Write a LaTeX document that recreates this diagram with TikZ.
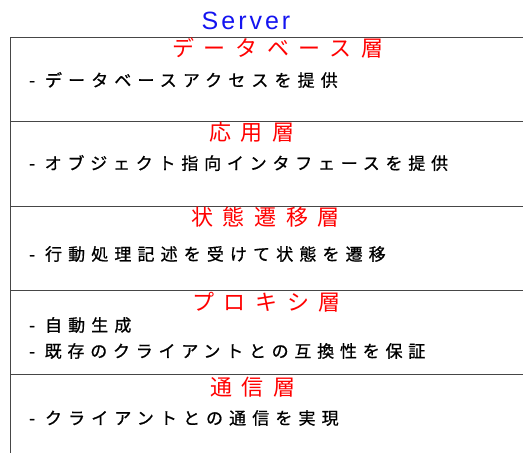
\documentclass[tikz,border=0pt]{standalone}
\usepackage{fontspec}
\newfontfamily\jph[LetterSpace=44]{Noto Sans CJK JP}
\newfontfamily\jpb[LetterSpace=36,FakeBold=0.8]{Noto Sans CJK JP}
\newfontfamily\jpbn[LetterSpace=34,FakeBold=0.8]{Noto Sans CJK JP}
\newfontfamily\srv[LetterSpace=12]{Liberation Sans}
\definecolor{srvblue}{RGB}{20,20,240}
\definecolor{linegray}{RGB}{70,70,70}
\tikzset{
  heading/.style={anchor=west,inner sep=0pt,text=red,font=\jph\fontsize{22}{26}\selectfont},
  body/.style={anchor=west,inner sep=0pt,text=black,font=\jpb\fontsize{17}{20}\selectfont},
  bodynarrow/.style={body,font=\jpbn\fontsize{17}{20}\selectfont},
  sep/.style={draw=linegray,line width=1pt}
}
\begin{document}
\begin{tikzpicture}[x=1pt,y=-1pt]
\useasboundingbox (0,0) rectangle (523,453);
\node[anchor=center,inner sep=0pt,text=srvblue,font=\srv\fontsize{25}{28}\selectfont] (title) at (246,21) {Server};
% frame lines
\draw[sep] (10,453) -- (10,37) -- (523,37);
\draw[sep] (10,121) -- (523,121);
\draw[sep] (10,206) -- (523,206);
\draw[sep] (10,290) -- (523,290);
\draw[sep] (10,374) -- (523,374);
% layer 1
\node[heading] (h1) at (172,48) {データベース層};
\node[body] (b1) at (29,80) {- データベースアクセスを提供};
% layer 2
\node[heading] (h2) at (209,132) {応用層};
\node[bodynarrow] (b2) at (29,163) {- オブジェクト指向インタフェースを提供};
% layer 3
\node[heading] (h3) at (191,217) {状態遷移層};
\node[body] (b3) at (29,254) {- 行動処理記述を受けて状態を遷移};
% layer 4
\node[heading] (h4) at (192,302) {プロキシ層};
\node[body] (b4a) at (29,325) {- 自動生成};
\node[bodynarrow] (b4b) at (29,351) {- 既存のクライアントとの互換性を保証};
% layer 5
\node[heading] (h5) at (210,387) {通信層};
\node[body] (b5) at (29,418) {- クライアントとの通信を実現};
\end{tikzpicture}
\end{document}
